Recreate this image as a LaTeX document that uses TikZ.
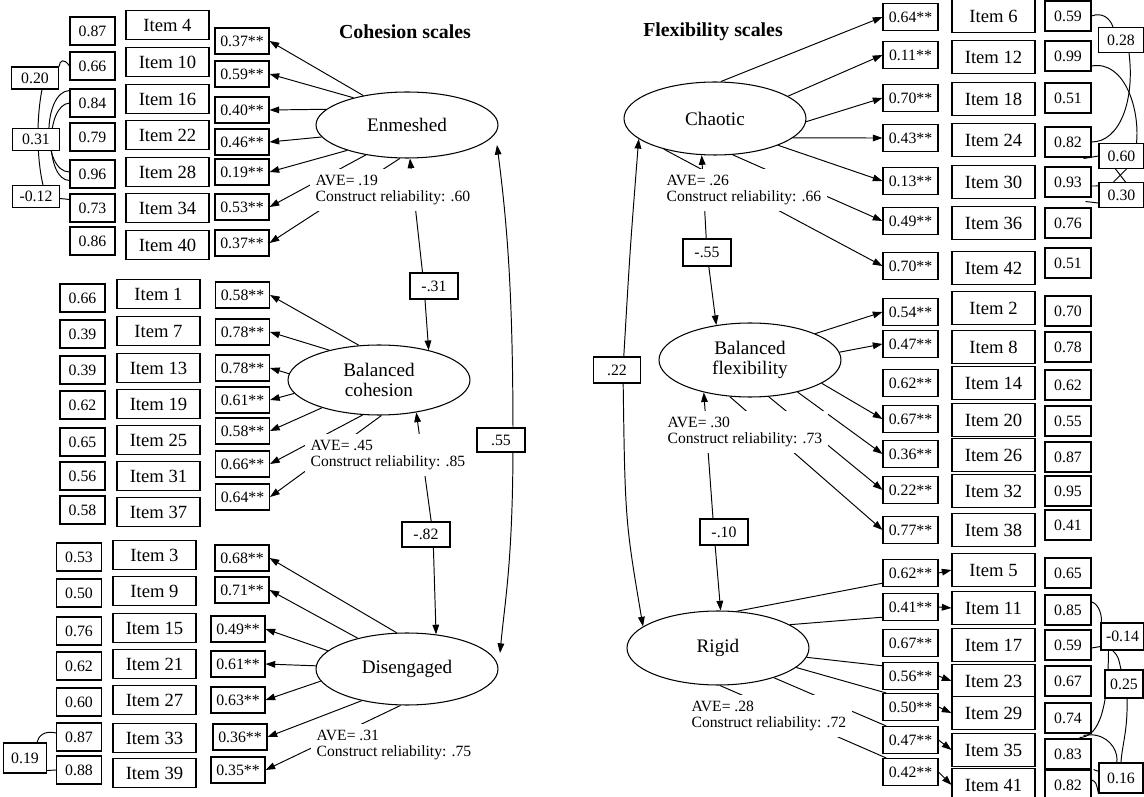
\documentclass[tikz,border=0pt]{standalone}
\usepackage{fontspec}
\setmainfont{Liberation Serif}
\usetikzlibrary{shapes.geometric,calc,backgrounds,arrows.meta}

\tikzset{
	box/.style={draw, fill=white, line width=0.6pt, inner sep=0pt},
	err/.style={box, minimum width=0.9cm, minimum height=0.56cm, font=\fontsize{9}{10}\selectfont},
	item/.style={box, minimum width=1.66cm, minimum height=0.58cm, font=\fontsize{10.6}{12}\selectfont},
	load/.style={box, minimum width=1.08cm, minimum height=0.52cm, font=\fontsize{9}{10}\selectfont},
	corr/.style={box, minimum width=0.94cm, minimum height=0.44cm, font=\fontsize{9}{10}\selectfont},
	errR/.style={err, minimum width=0.92cm, minimum height=0.6cm},
	itemR/.style={item, minimum height=0.66cm},
	loadR/.style={load, minimum width=1.1cm, minimum height=0.54cm},
	corrR/.style={corr, minimum width=0.9cm, minimum height=0.5cm},
	latent/.style={ellipse, draw, fill=white, line width=0.6pt, inner sep=0pt, minimum width=3.64cm, minimum height=1.4cm, align=center, font=\fontsize{10.9}{11.5}\selectfont},
	ave/.style={fill=white, anchor=west, align=left, inner xsep=3pt, inner ysep=3pt, font=\fontsize{8.9}{9.6}\selectfont},
	title/.style={font=\bfseries\fontsize{11.3}{13}\selectfont},
	tie/.style={line width=0.55pt},
	larr/.style={tie, -{Triangle[length=5.5pt,width=3.8pt]}},
	corrarr/.style={tie, {Triangle[length=5.5pt,width=3.8pt]}-{Triangle[length=5.5pt,width=3.8pt]}},
}

\begin{document}
\begin{tikzpicture}[x=0.02cm, y=-0.02cm]
		\useasboundingbox (0,0) rectangle (1144,797);
		\draw (405,32) node[title] (tC) {Cohesion scales};
		\draw (713,32) node[title] (tF) {Flexibility scales};
		% cohesion: enmeshed
		\draw (92.5,31) node[err] (e4) {0.87};
		\draw (167.5,25) node[item] (i4) {Item 4};
		\draw (242,41) node[load] (l4) {0.37**};
		\draw (92.5,66) node[err] (e10) {0.66};
		\draw (167.5,62) node[item] (i10) {Item 10};
		\draw (242,74) node[load] (l10) {0.59**};
		\draw (92.5,103) node[err] (e16) {0.84};
		\draw (167.5,99) node[item] (i16) {Item 16};
		\draw (242,110) node[load] (l16) {0.40**};
		\draw (92.5,137) node[err] (e22) {0.79};
		\draw (167.5,135) node[item] (i22) {Item 22};
		\draw (242,142) node[load] (l22) {0.46**};
		\draw (92.5,174) node[err] (e28) {0.96};
		\draw (167.5,172) node[item] (i28) {Item 28};
		\draw (242,172) node[load] (l28) {0.19**};
		\draw (92.5,208) node[err] (e34) {0.73};
		\draw (167.5,208) node[item] (i34) {Item 34};
		\draw (242,207) node[load] (l34) {0.53**};
		\draw (92.5,241) node[err] (e40) {0.86};
		\draw (167.5,245) node[item] (i40) {Item 40};
		\draw (242,243) node[load] (l40) {0.37**};
		\draw (35,78) node[corr] (c20) {0.20};
		\draw (36,139.5) node[corr] (c31) {0.31};
		\draw (36,196.5) node[corr] (c12) {-0.12};
		% cohesion: balanced
		\draw (82.5,298) node[err] (e1) {0.66};
		\draw (158.5,294) node[item] (i1) {Item 1};
		\draw (242.5,295) node[load] (l1) {0.58**};
		\draw (82.5,334) node[err] (e7) {0.39};
		\draw (158.5,331) node[item] (i7) {Item 7};
		\draw (242.5,332) node[load] (l7) {0.78**};
		\draw (82.5,370) node[err] (e13) {0.39};
		\draw (158.5,368) node[item] (i13) {Item 13};
		\draw (242.5,368) node[load] (l13) {0.78**};
		\draw (82.5,405) node[err] (e19) {0.62};
		\draw (158.5,404) node[item] (i19) {Item 19};
		\draw (242.5,400) node[load] (l19) {0.61**};
		\draw (82.5,442) node[err] (e25) {0.65};
		\draw (158.5,440) node[item] (i25) {Item 25};
		\draw (242.5,431) node[load] (l25) {0.58**};
		\draw (82.5,476) node[err] (e31) {0.56};
		\draw (158.5,476) node[item] (i31) {Item 31};
		\draw (242.5,464) node[load] (l31) {0.66**};
		\draw (82.5,510) node[err] (e37) {0.58};
		\draw (158.5,512) node[item] (i37) {Item 37};
		\draw (242.5,497) node[load] (l37) {0.64**};
		% cohesion: disengaged
		\draw (79,557) node[err] (e3) {0.53};
		\draw (154.5,555) node[item] (i3) {Item 3};
		\draw (242,558) node[load] (l3) {0.68**};
		\draw (79,593) node[err] (e9) {0.50};
		\draw (154.5,591) node[item] (i9) {Item 9};
		\draw (242,590) node[load] (l9) {0.71**};
		\draw (79,631) node[err] (e15) {0.76};
		\draw (154.5,628) node[item] (i15) {Item 15};
		\draw (238,629) node[load] (l15) {0.49**};
		\draw (79,666) node[err] (e21) {0.62};
		\draw (154.5,664) node[item] (i21) {Item 21};
		\draw (238,664) node[load] (l21) {0.61**};
		\draw (79,702) node[err] (e27) {0.60};
		\draw (154.5,700) node[item] (i27) {Item 27};
		\draw (238,700) node[load] (l27) {0.63**};
		\draw (79,737) node[err] (e33) {0.87};
		\draw (154.5,738) node[item] (i33) {Item 33};
		\draw (240,737) node[load] (l33) {0.36**};
		\draw (79,770) node[err] (e39) {0.88};
		\draw (154.5,773) node[item] (i39) {Item 39};
		\draw (238,770) node[load] (l39) {0.35**};
		\draw (25,758) node[corr, minimum width=0.86cm, minimum height=0.6cm] (c19) {0.19};
		% flexibility: chaotic
		\draw (910.5,17) node[loadR] (l6) {0.64**};
		\draw (993.5,16) node[itemR] (i6) {Item 6};
		\draw (1068,16) node[errR] (e6) {0.59};
		\draw (910.5,55) node[loadR] (l12) {0.11**};
		\draw (993.5,57) node[itemR] (i12) {Item 12};
		\draw (1068,56) node[errR] (e12) {0.99};
		\draw (910.5,98) node[loadR] (l18) {0.70**};
		\draw (993.5,99) node[itemR] (i18) {Item 18};
		\draw (1068,98) node[errR] (e18) {0.51};
		\draw (910.5,138) node[loadR] (l24) {0.43**};
		\draw (993.5,140) node[itemR] (i24) {Item 24};
		\draw (1068,142) node[errR] (e24) {0.82};
		\draw (910.5,181) node[loadR] (l30) {0.13**};
		\draw (993.5,182) node[itemR] (i30) {Item 30};
		\draw (1068,182) node[errR] (e30) {0.93};
		\draw (910.5,221) node[loadR] (l36) {0.49**};
		\draw (993.5,223) node[itemR] (i36) {Item 36};
		\draw (1068,223) node[errR] (e36) {0.76};
		\draw (910.5,266) node[loadR] (l42) {0.70**};
		\draw (993.5,268) node[itemR] (i42) {Item 42};
		\draw (1068,263) node[errR] (e42) {0.51};
		\draw (1121,40) node[corrR] (c28) {0.28};
		\draw (1121.5,156) node[corrR] (c60) {0.60};
		\draw (1121.5,195) node[corrR] (c30) {0.30};
		% flexibility: balanced
		\draw (910.5,312) node[loadR] (l2) {0.54**};
		\draw (993.5,308) node[itemR] (i2) {Item 2};
		\draw (1068,311) node[errR] (e2) {0.70};
		\draw (910.5,344) node[loadR] (l8) {0.47**};
		\draw (993.5,347) node[itemR] (i8) {Item 8};
		\draw (1068,347) node[errR] (e8) {0.78};
		\draw (910.5,383) node[loadR] (l14) {0.62**};
		\draw (993.5,383) node[itemR] (i14) {Item 14};
		\draw (1068,385) node[errR] (e14) {0.62};
		\draw (910.5,419) node[loadR] (l20) {0.67**};
		\draw (993.5,420) node[itemR] (i20) {Item 20};
		\draw (1068,421) node[errR] (e20) {0.55};
		\draw (910.5,454) node[loadR] (l26) {0.36**};
		\draw (993.5,455) node[itemR] (i26) {Item 26};
		\draw (1068,457) node[errR] (e26) {0.87};
		\draw (910.5,490) node[loadR] (l32) {0.22**};
		\draw (993.5,491) node[itemR] (i32) {Item 32};
		\draw (1068,491) node[errR] (e32) {0.95};
		\draw (910.5,530) node[loadR] (l38) {0.77**};
		\draw (993.5,530) node[itemR] (i38) {Item 38};
		\draw (1068,525) node[errR] (e38) {0.41};
		% flexibility: rigid
		\draw (910.5,573) node[loadR] (l5) {0.62**};
		\draw (993.5,570) node[itemR] (i5) {Item 5};
		\draw (1068,573) node[errR] (e5) {0.65};
		\draw (910.5,607) node[loadR] (l11) {0.41**};
		\draw (993.5,608) node[itemR] (i11) {Item 11};
		\draw (1068,610) node[errR] (e11) {0.85};
		\draw (910.5,643) node[loadR] (l17) {0.67**};
		\draw (993.5,645) node[itemR] (i17) {Item 17};
		\draw (1068,645) node[errR] (e17) {0.59};
		\draw (910.5,676) node[loadR] (l23) {0.56**};
		\draw (993.5,681) node[itemR] (i23) {Item 23};
		\draw (1068,681) node[errR] (e23) {0.67};
		\draw (910.5,707) node[loadR] (l29) {0.50**};
		\draw (993.5,713) node[itemR] (i29) {Item 29};
		\draw (1068,718) node[errR] (e29) {0.74};
		\draw (910.5,740) node[loadR] (l35) {0.47**};
		\draw (993.5,750) node[itemR] (i35) {Item 35};
		\draw (1068,754) node[errR] (e35) {0.83};
		\draw (910.5,772) node[loadR] (l41) {0.42**};
		\draw (993.5,785) node[itemR] (i41) {Item 41};
		\draw (1068,785) node[errR] (e41) {0.82};
		\draw (1122.5,636.5) node[corrR, minimum width=0.86cm, minimum height=0.54cm] (c14) {-0.14};
		\draw (1124,684) node[corrR, minimum width=0.76cm, minimum height=0.56cm] (c25) {0.25};
		\draw (1121,778) node[corrR, minimum width=0.88cm, minimum height=0.6cm] (c16) {0.16};
		% latent factors
		\draw (407,125) node[latent, minimum height=1.32cm] (E) {Enmeshed};
		\draw (379,380) node[latent] (BC) {Balanced\\cohesion};
		\draw (407,669) node[latent, minimum height=1.44cm] (D) {Disengaged};
		\draw (715,118.5) node[latent, minimum height=1.46cm] (C) {Chaotic};
		\draw (750,360) node[latent, minimum height=1.48cm] (BF) {Balanced\\flexibility};
		\draw (718,648) node[latent, minimum height=1.48cm] (R) {Rigid};
		\draw (310,190) node[ave] (aE) {AVE= .19\\Construct reliability: .60};
		\draw (305,455) node[ave] (aBC) {AVE= .45\\Construct reliability: .85};
		\draw (311,745) node[ave] (aD) {AVE= .31\\Construct reliability: .75};
		\draw (661,190) node[ave] (aC) {AVE= .26\\Construct reliability: .66};
		\draw (662,432) node[ave] (aBF) {AVE= .30\\Construct reliability: .73};
		\draw (686,716) node[ave] (aR) {AVE= .28\\Construct reliability: .72};
		% factor correlations
		\draw (434,286) node[corr, minimum width=0.96cm, minimum height=0.52cm] (rEB) {-.31};
		\draw (426,534.5) node[corr, minimum width=0.96cm, minimum height=0.5cm] (rBD) {-.82};
		\draw (501,440) node[corr, minimum width=0.96cm, minimum height=0.48cm] (rED) {.55};
		\draw (617,370) node[corr, minimum width=0.94cm, minimum height=0.52cm] (rCR) {.22};
		\draw (707,252.5) node[corr, minimum width=0.96cm, minimum height=0.54cm] (rCF) {-.55};
		\draw (724,532) node[corr, minimum width=0.96cm, minimum height=0.52cm] (rFR) {-.10};
		\coordinate (eED) at (497,145);
		\coordinate (dED) at (500,653);
		\begin{scope}[on background layer]
			% loadings, cohesion
			\draw[larr] (E.146) -- (l4.east);
			\draw[larr] (E.153) -- (l10.east);
			\draw[larr] (E.169) -- (l16.east);
			\draw[larr] (E.188) -- (l22.east);
			\draw[larr] (E.203) -- (l28.east);
			\draw[larr] (E.216) -- (l34.east);
			\draw[larr] (E.258) -- (l40.east);
			\draw[larr] (BC.120) -- (l1.east);
			\draw[larr] (BC.149) -- (l7.east);
			\draw[larr] (BC.176) -- (l13.east);
			\draw[larr] (BC.189) -- (l19.east);
			\draw[larr] (BC.206) -- (l25.east);
			\draw[larr] (BC.245) -- (l31.east);
			\draw[larr] (BC.274) -- (l37.east);
			\draw[larr] (D.106) -- (l3.east);
			\draw[larr] (D.148) -- (l9.east);
			\draw[larr] (D.167) -- (l15.east);
			\draw[larr] (D.178) -- (l21.east);
			\draw[larr] (D.188) -- (l27.east);
			\draw[larr] (D.215) -- (l33.east);
			\draw[larr] (D.260) -- (l39.east);
			% loadings, flexibility
			\draw[larr] (C.81) -- (l6.west);
			\draw[larr] (C.17) -- (l12.west);
			\draw[larr] (C.358) -- (l18.west);
			\draw[larr] (C.346) -- (l24.west);
			\draw[larr] (C.337) -- (l30.west);
			\draw[larr] (C.296) -- (l36.west);
			\draw[larr] (C.211) -- (l42.west);
			\draw[larr] (BF.22) -- (l2.west);
			\draw[larr] (BF.5) -- (l8.west);
			\draw[larr] (BF.342) -- (l20.west);
			\draw[larr] (BF.326) -- (l26.west);
			\draw[larr] (BF.297) -- (l32.west);
			\draw[larr] (BF.241) -- (l38.west);
			\draw[tie] (R.63) -- (l5.200);
			\draw[tie] (R.18) -- (l11.200);
			\draw[tie] (R.354) -- (l23.160);
			\draw[tie] (R.346) -- (l29.150);
			\draw[tie] (R.332) -- (l35.150);
			\draw[tie] (R.273) -- (l41.150);
			\draw[larr] (l5.east) -- (i5.west);
			\draw[larr] (l11.east) -- (i11.west);
			\draw[larr] (l23.east) -- (i23.west);
			\draw[larr] (l29.east) -- (i29.west);
			\draw[larr] (l35.east) -- (i35.west);
			\draw[larr] (l41.east) -- (i41.west);
			% factor correlations
			\draw[corrarr] (E.275) -- ($(rEB)+(-10,0)$) -- (BC.31);
			\draw[corrarr] (BC.319) -- ($(rBD)+(7,0)$) -- (D.50);
			\draw[corrarr] (eED) .. controls (508,230) and (513,300) .. ($(rED)+(12,0)$) .. controls (513,560) and (505,600) .. (dED);
			\draw[corrarr] (C.195) .. controls (630,250) .. ($(rCR)+(6,0)$) .. controls (625,520) .. (R.164);
			\draw[corrarr] (C.250) -- (rCF.center) -- (BF.134);
			\draw[corrarr] (BF.215) -- ($(rFR)+(-10,0)$) -- (R.86);
			% correlated errors, cohesion
			\draw[tie] (e10.west) .. controls (64,58) and (60,60) .. (c20.north east);
			\draw[tie] ($(c20.south)+(7,0)$) .. controls (36,120) and (37,160) .. ($(c12.north)+(7,0)$);
			\draw[tie] ($(e16.north west)+(0,2)$) .. controls (42,92) and (42,172) .. ($(e28.west)+(0,-2)$);
			\draw[tie] (e16.west) .. controls (45,105) and (45,180) .. ($(e28.south west)+(0,-8)$);
			\draw[tie] ($(c12.east)+(0,2)$) -- ($(e34.north west)+(0,6)$);
			\draw[tie] ($(e33.west)+(0,-4)$) .. controls (45,730) and (38,736) .. ($(c19.north)+(12,0)$);
			\draw[tie] ($(c19.south east)+(0,-3)$) -- (e39.west);
			% correlated errors, flexibility
			\draw[tie] (e6.east) .. controls (1102,12) and (1110,18) .. ($(c28.north)+(-8,0)$);
			\draw[tie] ($(e12.east)+(0,10)$) .. controls (1125,60) and (1140,110) .. ($(c60.north)+(15,0)$);
			\draw[tie] ($(c28.south)+(8,0)$) .. controls (1135,100) and (1120,142) .. (e24.east);
			\draw[tie] ($(e24.south east)+(-8,1)$) -- (c60.west);
			\draw[tie] ($(e30.east)+(0,4)$) -- ($(c30.north west)+(0,4)$);
			\draw[tie] ($(e30.south east)+(-6,4)$) -- ($(c30.west)+(0,8)$);
			\draw[tie] ($(c60.south)+(-6,0)$) -- ($(c30.north)+(4,0)$);
			\draw[tie] ($(c60.south)+(5,0)$) -- ($(c30.north)+(-8,0)$);
			\draw[tie] ($(e11.east)+(0,-8)$) .. controls (1097,603) and (1102,612) .. ($(c14.north west)+(1,0)$);
			\draw[tie] ($(e17.east)+(0,3)$) -- ($(c14.south west)+(0,-4)$);
			\draw[tie] ($(c14.south)+(-14,0)$) .. controls (1108,720) and (1095,737) .. ($(e29.south east)+(-12,4)$);
			\draw[tie] ($(c14.south)+(-10,0)$) .. controls (1118,656) .. ($(c25.north)+(-3,0)$);
			\draw[tie] ($(c25.south)+(3,0)$) .. controls (1128,730) and (1122,745) .. (c16.north);
			\draw[tie] ($(e35.north east)+(-8,-3)$) .. controls (1122,728) and (1130,785) .. ($(e35.south east)+(2,0)$);
			\draw[tie] ($(e41.east)+(0,-5)$) .. controls (1096,782) .. (c16.south west);
		\end{scope}
\end{tikzpicture}
\end{document}
